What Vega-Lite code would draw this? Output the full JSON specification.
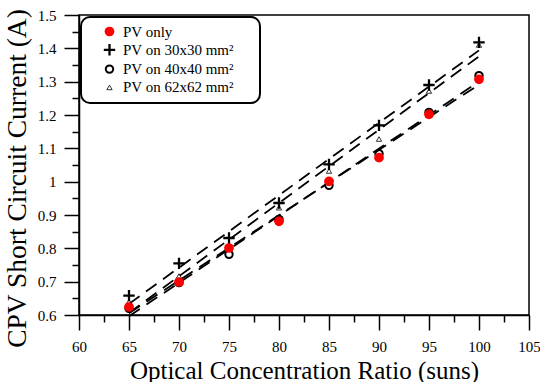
{
  "$schema": "https://vega.github.io/schema/vega-lite/v6.json",
  "width": 450,
  "height": 300,
  "autosize": "none",
  "padding": {"left": 79, "top": 15, "right": 11, "bottom": 67},
  "config": {
    "font": "Liberation Serif",
    "view": {"stroke": "black", "strokeWidth": 1.5},
    "axis": {"domainColor": "black", "domainWidth": 1.5, "tickColor": "black", "tickWidth": 1.5, "labelColor": "black", "titleColor": "black", "grid": false, "titleFontWeight": "normal", "labelFontSize": 15, "titleFontSize": 25, "labelFont": "Liberation Serif", "titleFont": "Liberation Serif"},
    "legend": {"orient": "none", "legendX": 2, "legendY": 2, "strokeColor": "black", "strokeWidth": 2, "cornerRadius": 9, "padding": 7, "fillColor": "white", "labelFontSize": 15, "labelFont": "Liberation Serif", "labelColor": "black", "rowPadding": 2.3, "symbolOffset": 14, "labelOffset": 6, "titleOrient": "right", "titleColor": "white", "titleFontSize": 15, "titleFont": "Liberation Serif", "titlePadding": 4}
  },
  "data": {
    "values": [
      {"x": 65, "y": 0.640, "s": "PV on 62x62 mm²"},
      {"x": 70, "y": 0.717, "s": "PV on 62x62 mm²"},
      {"x": 75, "y": 0.808, "s": "PV on 62x62 mm²"},
      {"x": 80, "y": 0.922, "s": "PV on 62x62 mm²"},
      {"x": 85, "y": 1.032, "s": "PV on 62x62 mm²"},
      {"x": 90, "y": 1.128, "s": "PV on 62x62 mm²"},
      {"x": 95, "y": 1.272, "s": "PV on 62x62 mm²"},
      {"x": 100, "y": 1.410, "s": "PV on 62x62 mm²"},
      {"x": 65, "y": 0.620, "s": "PV on 40x40 mm²"},
      {"x": 70, "y": 0.697, "s": "PV on 40x40 mm²"},
      {"x": 75, "y": 0.782, "s": "PV on 40x40 mm²"},
      {"x": 80, "y": 0.887, "s": "PV on 40x40 mm²"},
      {"x": 85, "y": 0.989, "s": "PV on 40x40 mm²"},
      {"x": 90, "y": 1.084, "s": "PV on 40x40 mm²"},
      {"x": 95, "y": 1.208, "s": "PV on 40x40 mm²"},
      {"x": 100, "y": 1.318, "s": "PV on 40x40 mm²"},
      {"x": 65, "y": 0.658, "s": "PV on 30x30 mm²"},
      {"x": 70, "y": 0.755, "s": "PV on 30x30 mm²"},
      {"x": 75, "y": 0.831, "s": "PV on 30x30 mm²"},
      {"x": 80, "y": 0.936, "s": "PV on 30x30 mm²"},
      {"x": 85, "y": 1.052, "s": "PV on 30x30 mm²"},
      {"x": 90, "y": 1.169, "s": "PV on 30x30 mm²"},
      {"x": 95, "y": 1.290, "s": "PV on 30x30 mm²"},
      {"x": 100, "y": 1.418, "s": "PV on 30x30 mm²"},
      {"x": 65, "y": 0.624, "s": "PV only"},
      {"x": 70, "y": 0.699, "s": "PV only"},
      {"x": 75, "y": 0.801, "s": "PV only"},
      {"x": 80, "y": 0.881, "s": "PV only"},
      {"x": 85, "y": 1.001, "s": "PV only"},
      {"x": 90, "y": 1.072, "s": "PV only"},
      {"x": 95, "y": 1.202, "s": "PV only"},
      {"x": 100, "y": 1.307, "s": "PV only"}
    ]
  },
  "encoding": {
    "x": {
      "field": "x", "type": "quantitative",
      "scale": {"domain": [60, 105], "nice": false, "zero": false},
      "axis": {
        "title": "Optical Concentration Ratio (suns)",
        "values": [60, 62.5, 65, 67.5, 70, 72.5, 75, 77.5, 80, 82.5, 85, 87.5, 90, 92.5, 95, 97.5, 100, 102.5, 105],
        "labelExpr": "datum.value % 5 === 0 ? toString(datum.value) : ''",
        "tickSize": {"condition": {"test": "datum.value % 5 === 0", "value": 15}, "value": 7},
        "labelPadding": 9,
        "labelFlush": false,
        "labelOverlap": false,
        "titlePadding": 4
      }
    },
    "y": {
      "field": "y", "type": "quantitative",
      "scale": {"domain": [0.6, 1.5], "nice": false, "zero": false},
      "axis": {
        "title": "CPV Short Circuit Current (A)",
        "titleFontSize": 27.5,
        "titleY": 163,
        "values": [0.6, 0.65, 0.7, 0.75, 0.8, 0.85, 0.9, 0.95, 1.0, 1.05, 1.1, 1.15, 1.2, 1.25, 1.3, 1.35, 1.4, 1.45, 1.5],
        "labelExpr": "round(datum.value*100) % 10 === 0 ? toString(round(datum.value*10)/10) : ''",
        "tickSize": {"condition": {"test": "round(datum.value*100) % 10 === 0", "value": 15}, "value": 7},
        "labelPadding": 8,
        "labelFlush": false,
        "labelOverlap": false,
        "titlePadding": 6
      }
    }
  },
  "layer": [
    {
      "transform": [{"regression": "y", "on": "x", "groupby": ["s"]}],
      "mark": {"type": "line", "color": "black", "strokeWidth": 1.8, "strokeDash": [13, 8]},
      "encoding": {
        "detail": {"field": "s", "type": "nominal"}
      }
    },
    {
      "mark": {"type": "point", "opacity": 1, "filled": false},
      "encoding": {
        "shape": {"field": "s", "type": "nominal", "title": "M",
          "scale": {"domain": ["PV only", "PV on 30x30 mm²", "PV on 40x40 mm²", "PV on 62x62 mm²"], "range": ["circle", "M-1,-0.2H-0.2V-1H0.2V-0.2H1V0.2H0.2V1H-0.2V0.2H-1Z", "circle", "triangle-up"]}},
        "fill": {"field": "s", "type": "nominal", "title": "M",
          "scale": {"domain": ["PV only", "PV on 30x30 mm²", "PV on 40x40 mm²", "PV on 62x62 mm²"], "range": ["#ff0000", "black", "transparent", "transparent"]}},
        "color": {"field": "s", "type": "nominal", "title": "M",
          "scale": {"domain": ["PV only", "PV on 30x30 mm²", "PV on 40x40 mm²", "PV on 62x62 mm²"], "range": ["#ff0000", "black", "black", "black"]}},
        "size": {"field": "s", "type": "nominal", "title": "M",
          "scale": {"type": "ordinal", "domain": ["PV only", "PV on 30x30 mm²", "PV on 40x40 mm²", "PV on 62x62 mm²"], "range": [95, 130, 55, 28]}},
        "strokeWidth": {"field": "s", "type": "nominal", "title": "M",
          "scale": {"type": "ordinal", "domain": ["PV only", "PV on 30x30 mm²", "PV on 40x40 mm²", "PV on 62x62 mm²"], "range": [0, 0, 2, 0.8]}}
      }
    }
  ]
}
